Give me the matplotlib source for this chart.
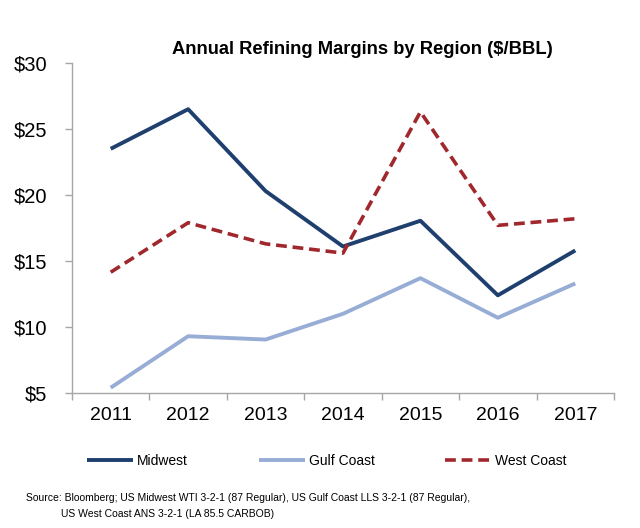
import matplotlib
matplotlib.use("Agg")
import matplotlib.pyplot as plt

years = ["2011", "2012", "2013", "2014", "2015", "2016", "2017"]
midwest = [23.5, 26.5, 20.3, 16.1, 18.05, 12.4, 15.8]
gulf_coast = [5.4, 9.3, 9.05, 11.0, 13.7, 10.7, 13.3]
west_coast = [14.15, 17.9, 16.3, 15.6, 26.3, 17.7, 18.2]
y_ticks = [5, 10, 15, 20, 25, 30]
y_labels = ["$5", "$10", "$15", "$20", "$25", "$30"]

plt.rcParams['font.family'] = ['Liberation Sans', 'DejaVu Sans']

fig = plt.figure(figsize=(6.4, 5.28), dpi=100)
W, H = 640, 528
l, r, t, b = 72, 614, 63, 393
ax = fig.add_axes([l / W, 1 - b / H, (r - l) / W, (b - t) / H])

x = list(range(len(years)))
ax.plot(x, midwest, color="#1F3F6E", lw=2.8, label="Midwest", solid_capstyle="butt")
ax.plot(x, gulf_coast, color="#98ADD6", lw=2.8, label="Gulf Coast", solid_capstyle="butt")
ax.plot(x, west_coast, color="#A0282D", lw=2.6, ls=(0, (3, 1.6)), label="West Coast")

ax.set_xlim(-0.5, len(years) - 0.5)
ax.set_ylim(5, 30)
ax.set_yticks(y_ticks)
ax.set_yticklabels(y_labels)
ax.set_xticks([i + 0.5 for i in range(-1, len(years))])
ax.set_xticklabels([])
ax.set_xticks(x, minor=True)
ax.set_xticklabels(years, minor=True)
ax.tick_params(axis="x", which="minor", length=0, labelsize=14, pad=10)
ax.tick_params(axis="x", which="major", length=5, color="#A6A6A6", width=1)
ax.tick_params(axis="y", length=5, color="#A6A6A6", width=1, labelsize=14.5, pad=13)
for s in ["top", "right"]:
    ax.spines[s].set_visible(False)
for s in ["left", "bottom"]:
    ax.spines[s].set_color("#A6A6A6")
    ax.spines[s].set_linewidth(1)

fig.text(362 / W, 1 - 49 / H, "Annual Refining Margins by Region ($/BBL)",
         ha="center", va="center", fontsize=13.2, fontweight="bold")

fig.legend(loc="center", bbox_to_anchor=(327 / W, 1 - 461 / H), ncol=3, frameon=False,
           fontsize=10, handlelength=3.3, handletextpad=0.3, columnspacing=5.1)

fig.text(26 / W, 1 - 498 / H,
         "Source: Bloomberg; US Midwest WTI 3-2-1 (87 Regular), US Gulf Coast LLS 3-2-1 (87 Regular),",
         ha="left", va="center", fontsize=7.5)
fig.text(61 / W, 1 - 514 / H, "US West Coast ANS 3-2-1 (LA 85.5 CARBOB)",
         ha="left", va="center", fontsize=7.5)

fig.savefig("out.png", dpi=100)
